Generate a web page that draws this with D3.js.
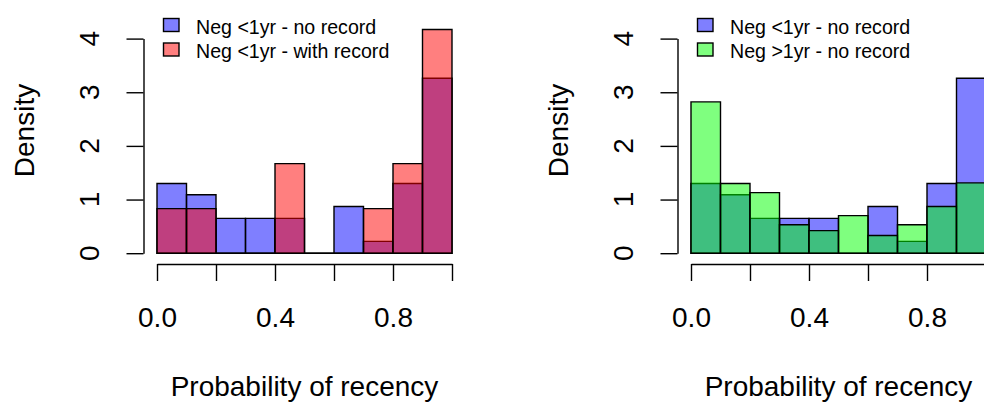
<!DOCTYPE html>
<html>
<head>
<meta charset="utf-8">
<script src="https://cdn.jsdelivr.net/npm/d3@7"></script>
<style>
  html, body { margin: 0; padding: 0; background: #fff; }
  svg { display: block; }
  text { font-family: "Liberation Sans", Arial, sans-serif; fill: #000; }
</style>
</head>
<body>
<svg id="chart" width="984" height="403"></svg>
<script>
// ---- data (histogram densities, bin width 0.1) ----
const breaks = [0, 0.1, 0.2, 0.3, 0.4, 0.5, 0.6, 0.7, 0.8, 0.9, 1.0];
const negLt1NoRecord   = [1.30, 1.09, 0.65, 0.65, 0.65, 0.00, 0.87, 0.22, 1.30, 3.26];
const negLt1WithRecord = [0.83, 0.83, 0.00, 0.00, 1.67, 0.00, 0.00, 0.83, 1.67, 4.17];
const negGt1NoRecord   = [2.82, 1.30, 1.13, 0.53, 0.42, 0.70, 0.33, 0.53, 0.87, 1.31];
const xTicks = [0, 0.2, 0.4, 0.6, 0.8, 1.0];
const xTickLabels = [0, 0.4, 0.8];
const yTicks = [0, 1, 2, 3, 4];
const xTitle = "Probability of recency";
const yTitle = "Density";
const panels = [
  { series: [
      { name: "Neg <1yr - no record",   values: negLt1NoRecord,   color: "rgba(0,0,255,0.5)" },
      { name: "Neg <1yr - with record", values: negLt1WithRecord, color: "rgba(255,0,0,0.5)" } ] },
  { series: [
      { name: "Neg <1yr - no record",   values: negLt1NoRecord,   color: "rgba(0,0,255,0.5)" },
      { name: "Neg >1yr - no record",   values: negGt1NoRecord,   color: "rgba(0,255,0,0.5)" } ] }
];

// ---- layout ----
const svg = d3.select("#chart");
svg.append("rect").attr("width", 984).attr("height", 403).attr("fill", "#fff");
const panelOffset = 534;
const plotLeft = 157, plotRight = 452;
const yBase = 253.2, yTop4 = 38.6;
const axisY = 264, axisX = 143.5, tickLen = 17;
const fontMain = 28, fontLegend = 19.6;

panels.forEach((p, i) => {
  const g = svg.append("g").attr("transform", `translate(${i * panelOffset},0)`);
  const x = d3.scaleLinear().domain([0, 1]).range([plotLeft, plotRight]);
  const y = d3.scaleLinear().domain([0, 4]).range([yBase, yTop4]);

  // bars
  p.series.forEach(s => {
    g.append("g").selectAll("path")
      .data(s.values.map((v, k) => ({ x0: breaks[k], x1: breaks[k + 1], v })))
      .join("path")
      .attr("d", d => {
        const x0 = x(d.x0), x1 = x(d.x1), y0 = y(0), y1 = y(d.v);
        return `M${x0},${y0}H${x1}V${y1}H${x0}Z`;
      })
      .attr("fill", s.color)
      .attr("stroke", "#000")
      .attr("stroke-width", 1.4);
  });

  // x axis
  const xa = g.append("g").attr("transform", `translate(0,${axisY})`)
    .call(d3.axisBottom(x).tickValues(xTicks).tickSize(tickLen).tickSizeOuter(0)
      .tickFormat(d => xTickLabels.some(t => Math.abs(t - d) < 1e-9) ? d3.format(".1f")(d) : ""));
  xa.select(".domain").attr("stroke", "#000").attr("stroke-width", 1.4);
  xa.selectAll(".tick line").attr("stroke", "#000").attr("stroke-width", 1.4);
  xa.selectAll(".tick text").attr("y", 63).attr("dy", 0)
    .attr("font-size", fontMain).attr("font-family", '"Liberation Sans", Arial, sans-serif').attr("fill", "#000");

  // y axis
  const ya = g.append("g").attr("transform", `translate(${axisX},0)`)
    .call(d3.axisLeft(y).tickValues(yTicks).tickSize(tickLen).tickSizeOuter(0).tickFormat(""));
  ya.select(".domain").attr("stroke", "#000").attr("stroke-width", 1.4);
  ya.selectAll(".tick line").attr("stroke", "#000").attr("stroke-width", 1.4);
  g.append("g").selectAll("text").data(yTicks).join("text")
    .attr("transform", d => `translate(99,${y(d)}) rotate(-90)`)
    .attr("text-anchor", "middle")
    .attr("font-size", fontMain)
    .text(d => d3.format("d")(d));

  // titles
  g.append("text")
    .attr("x", (plotLeft + plotRight) / 2).attr("y", 396)
    .attr("text-anchor", "middle").attr("font-size", fontMain).text(xTitle);
  g.append("text")
    .attr("transform", `translate(33.5,130.5) rotate(-90)`)
    .attr("text-anchor", "middle").attr("font-size", fontMain).text(yTitle);

  // legend
  const lg = g.append("g");
  p.series.forEach((s, k) => {
    lg.append("rect")
      .attr("x", 163.5).attr("y", 18.5 + k * 24.5).attr("width", 15.5).attr("height", 13)
      .attr("fill", s.color).attr("stroke", "#000").attr("stroke-width", 1.4);
    lg.append("text")
      .attr("x", 196).attr("y", 33.5 + k * 24.5)
      .attr("font-size", fontLegend).text(s.name);
  });
});
</script>
</body>
</html>
